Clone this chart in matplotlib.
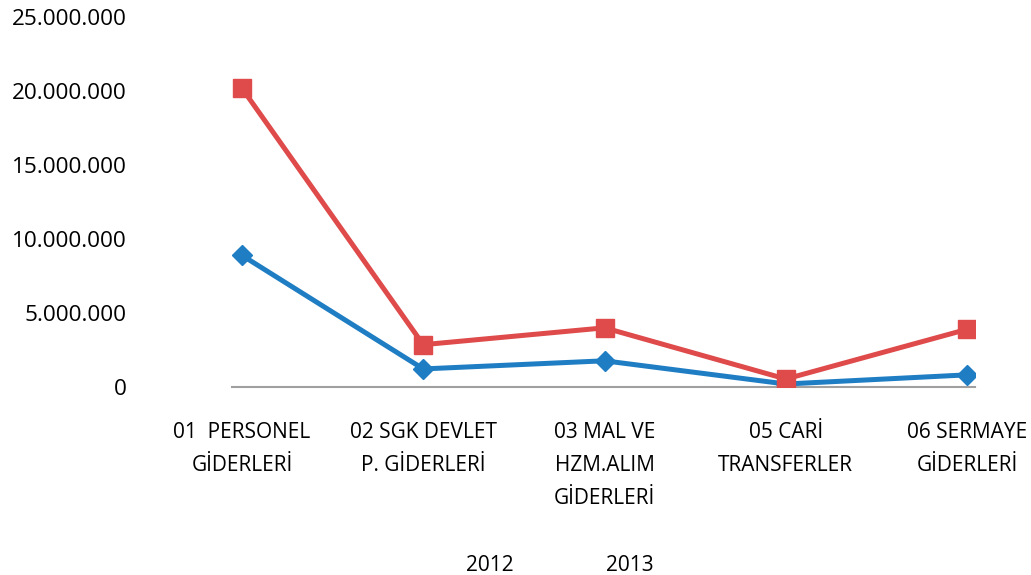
import matplotlib.pyplot as plt
from matplotlib.lines import Line2D
from matplotlib.ticker import FuncFormatter

# data
categories = ['01  PERSONEL\nGİDERLERİ', '02 SGK DEVLET\nP. GİDERLERİ',
              '03 MAL VE\nHZM.ALIM\nGİDERLERİ', '05 CARİ\nTRANSFERLER',
              '06 SERMAYE\nGİDERLERİ']
series_names = ['2012', '2013']
values_2012 = [8900000, 1220000, 1770000, 200000, 820000]
values_2013 = [20200000, 2860000, 4000000, 540000, 3900000]

plt.rcParams['font.family'] = ['Open Sans', 'DejaVu Sans']

fig = plt.figure(figsize=(10.31, 5.75), dpi=100)
ax = fig.add_axes([0.225, 0.327, 0.721, 0.643])

x = range(len(categories))
ax.plot(x, values_2012, color='#1f7dc3', lw=3.6, marker='D', markersize=10,
        label=series_names[0], zorder=3)
ax.plot(x, values_2013, color='#df4a4a', lw=3.6, marker='s', markersize=13,
        label=series_names[1], zorder=4)

ax.set_ylim(0, 25000000)
ax.set_xlim(-0.055, 4.045)
ax.set_yticks(range(0, 25000001, 5000000))
ax.yaxis.set_major_formatter(FuncFormatter(lambda v, p: f'{int(v):,}'.replace(',', '.')))
ax.set_xticks(list(x))
ax.set_xticklabels(categories, linespacing=1.75)

for s in ['top', 'right', 'left']:
    ax.spines[s].set_visible(False)
ax.spines['bottom'].set_color('#a0a0a0')
ax.spines['bottom'].set_linewidth(1.5)
ax.tick_params(axis='both', length=0, colors='#000000')
ax.tick_params(axis='y', pad=76, labelsize=16.2)
ax.tick_params(axis='x', pad=25, labelsize=15)

handles = [Line2D([], [], linestyle='none') for _ in series_names]
fig.legend(handles, series_names, loc='center', bbox_to_anchor=(0.535, 0.017),
           ncol=2, frameon=False, fontsize=15, handlelength=0, columnspacing=3.6)

fig.savefig('out.png', dpi=100)
